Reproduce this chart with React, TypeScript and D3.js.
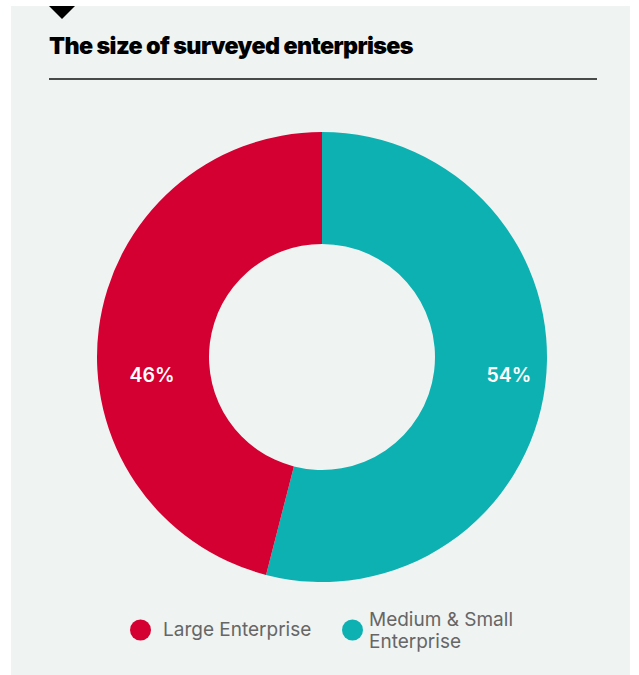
import React from "react";
import * as d3 from "d3";

const categories = ["Medium & Small Enterprise", "Large Enterprise"];
const values = [54, 46];
const labels = ["54%", "46%"];
const colors = ["#0EB1B2", "#D40032"];
const legendItems = [
  { name: ["Large Enterprise"], color: "#D40032" },
  { name: ["Medium & Small", "Enterprise"], color: "#0EB1B2" },
];
const title = "The size of surveyed enterprises";

export default function App() {
  const W = 639, H = 675;
  const cx = 322, cy = 357, outerR = 225, innerR = 113;
  const pie = d3.pie<number>().sort(null).value((d) => d);
  const arcs = pie(values);
  const arcGen = d3.arc<d3.PieArcDatum<number>>().innerRadius(innerR).outerRadius(outerR);
  const font = "Inter, 'Noto Sans', sans-serif";
  return (
    <svg width={W} height={H} style={{ position: "absolute", left: 0, top: 0 }}>
      <rect x={11} y={6} width={619} height={669} fill="#EFF3F2" />
      <path d="M49,6 L75,6 L62,19 Z" fill="#000" />
      <text x={49} y={54} fontFamily={font} fontWeight={900} fontSize={23.3} letterSpacing={-0.6} fill="#000">
        {title}
      </text>
      <line x1={49} x2={597} y1={79} y2={79} stroke="#111" strokeWidth={1.3} />
      <g transform={`translate(${cx},${cy})`}>
        {arcs.map((a, i) => (
          <path key={categories[i]} d={arcGen(a) || ""} fill={colors[i]} />
        ))}
        {arcs.map((a, i) => {
          const mid = (a.startAngle + a.endAngle) / 2;
          const side = Math.sin(mid) >= 0 ? 1 : -1;
          const off = side > 0 ? 187 : 170;
          return (
            <text key={"l" + i} x={side * off} y={25} textAnchor="middle" fontFamily={font} fontWeight={600} fontSize={19.5} fill="#fff">
              {labels[i]}
            </text>
          );
        })}
      </g>
      {legendItems.map((it, i) => {
        const x = i === 0 ? 140.5 : 352.5;
        const tx = i === 0 ? 163 : 369;
        return (
          <g key={"lg" + i}>
            <circle cx={x} cy={630} r={10.5} fill={it.color} />
            {it.name.map((n, j) => (
              <text key={j} x={tx} y={it.name.length === 1 ? 636 : 626 + j * 22} fontFamily={font} fontSize={19} fill="#666">
                {n}
              </text>
            ))}
          </g>
        );
      })}
    </svg>
  );
}
